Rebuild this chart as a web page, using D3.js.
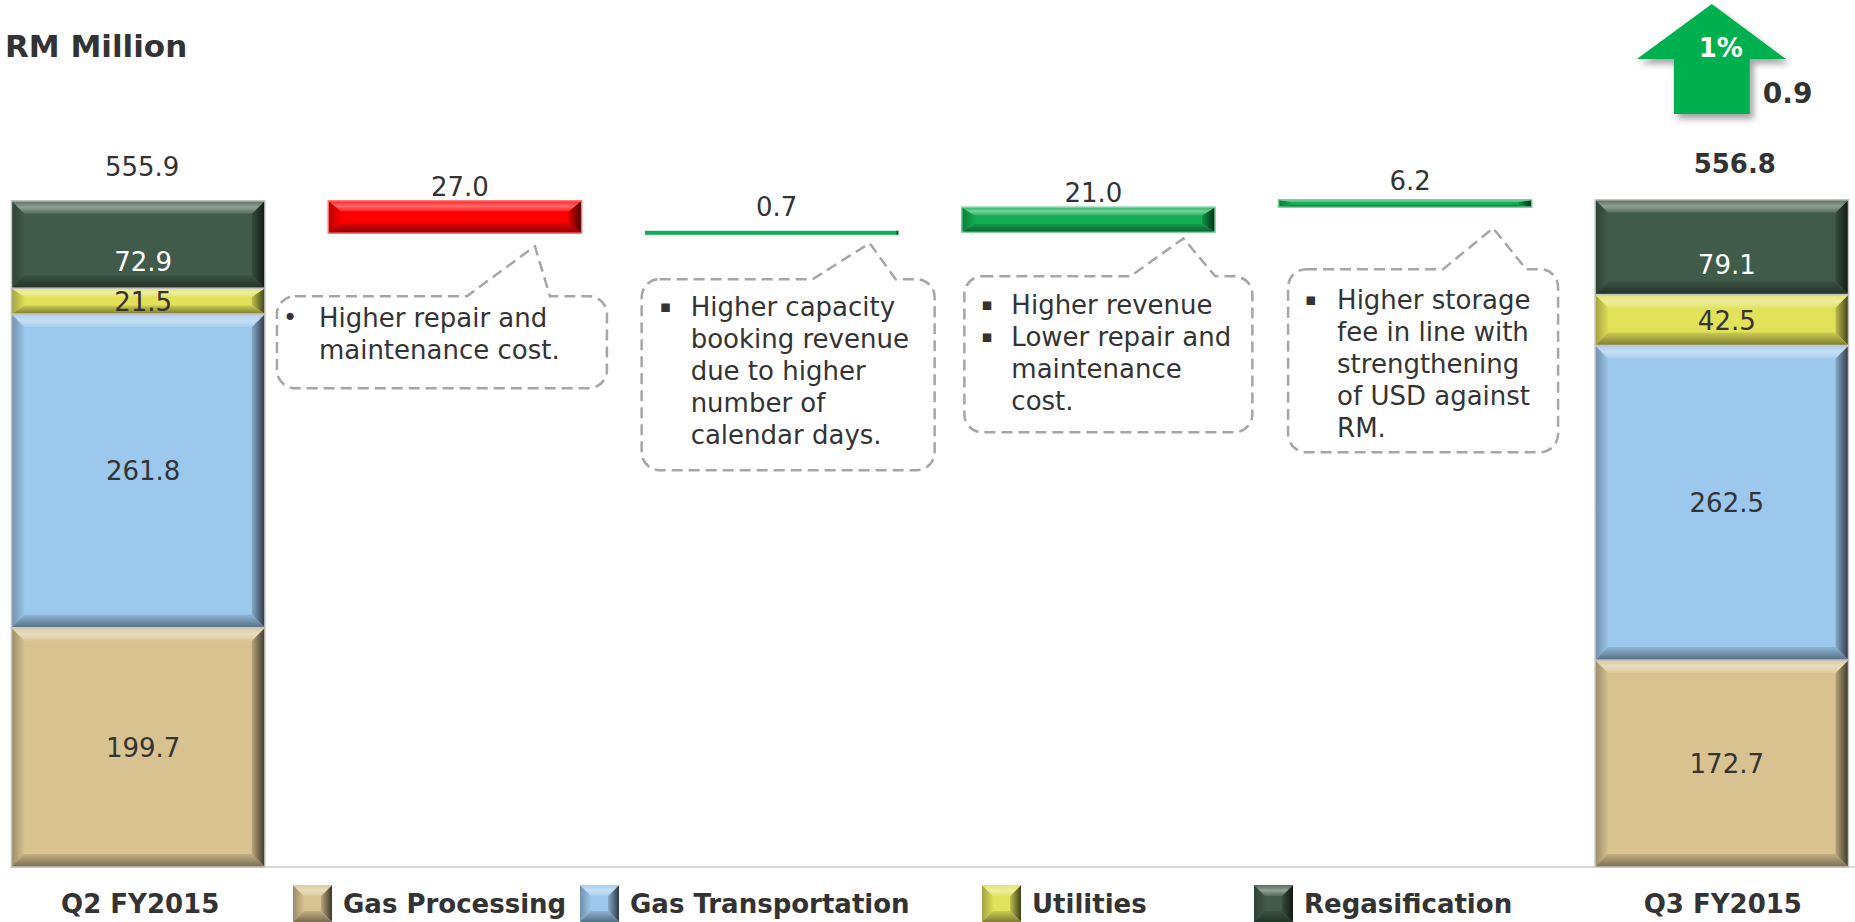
<!DOCTYPE html>
<html>
<head>
<meta charset="utf-8">
<script src="https://cdn.jsdelivr.net/npm/d3@7"></script>
<style>
  html, body { margin: 0; padding: 0; background: #ffffff; }
  svg { display: block; font-family: "DejaVu Sans", Verdana, sans-serif; }
</style>
</head>
<body>
<svg id="chart" width="1855" height="922"></svg>
<script>
// ---------- data ----------
const periods = ["Q2 FY2015", "Q3 FY2015"];
const segments = ["Gas Processing", "Gas Transportation", "Utilities", "Regasification"];
const q2Values = [199.7, 261.8, 21.5, 72.9];
const q3Values = [172.7, 262.5, 42.5, 79.1];
const segmentChanges = [-27.0, 0.7, 21.0, 6.2];
const changePercentLabel = "1%";
const unitLabel = "RM Million";

// explanation notes for each segment change: bullet items, each split into lines
const notes = [
  [["Higher repair and", "maintenance cost."]],
  [["Higher capacity", "booking revenue", "due to higher", "number of", "calendar days."]],
  [["Higher revenue"], ["Lower repair and", "maintenance", "cost."]],
  [["Higher storage", "fee in line with", "strengthening", "of USD against", "RM."]]
];
const noteBullets = ["•", "▪", "▪", "▪"];

// ---------- styles ----------
const segmentColors = ["#d8c390", "#9dc8ee", "#e1e15a", "#405b49"];
const segmentLabelColors = ["#333333", "#333333", "#333333", "#ffffff"];
const upColor = "#12ad52";
const downColor = "#ff0000";
const textColor = "#333333";

const W = 1855, H = 922;
const svg = d3.select("#chart");
const defs = svg.append("defs");
const fmt = d3.format(".1f");

// ---------- scales ----------
const categories = [periods[0], ...segments, periods[1]];
const x = d3.scaleBand().domain(categories).range([2, 1858]).paddingInner(0.2).paddingOuter(0.03);
const y = d3.scaleLinear().domain([0, 600]).range([867, 148]);
const bw = x.bandwidth();
const cx = c => x(c) + bw / 2;

// ---------- bevel helpers ----------
const gradCache = {};
function grad(color, side) {
  const id = "g" + color.replace("#", "") + side;
  if (!gradCache[id]) {
    gradCache[id] = true;
    const mix = t => t >= 0 ? d3.interpolateRgb(color, "#ffffff")(t) : d3.interpolateRgb(color, "#000000")(-t);
    const specs = {
      top:    { x2: 0, y2: 1, stops: [[0, mix(0.12)], [0.5, mix(0.42)], [1, mix(0.1)]] },
      bottom: { x2: 0, y2: 1, stops: [[0, mix(-0.1)], [1, mix(-0.45)]] },
      left:   { x2: 1, y2: 0, stops: [[0, mix(-0.28)], [1, mix(-0.02)]] },
      right:  { x2: 1, y2: 0, stops: [[0, mix(-0.15)], [1, mix(-0.72)]] }
    };
    const s = specs[side];
    const lg = defs.append("linearGradient").attr("id", id)
      .attr("x1", 0).attr("y1", 0).attr("x2", s.x2).attr("y2", s.y2);
    s.stops.forEach(([o, c]) => lg.append("stop").attr("offset", o).attr("stop-color", c));
  }
  return `url(#${id})`;
}

function bevelRect(g, x0, y0, w, h, color, stroke, maxB = 13) {
  const by = Math.min(maxB, h * 0.33);
  const bx = Math.min(maxB, w / 2);
  const grp = g.append("g");
  grp.append("rect").attr("x", x0).attr("y", y0).attr("width", w).attr("height", h).attr("fill", color);
  const pts = {
    top:    [[x0, y0], [x0 + w, y0], [x0 + w - bx, y0 + by], [x0 + bx, y0 + by]],
    bottom: [[x0 + bx, y0 + h - by], [x0 + w - bx, y0 + h - by], [x0 + w, y0 + h], [x0, y0 + h]],
    left:   [[x0, y0], [x0 + bx, y0 + by], [x0 + bx, y0 + h - by], [x0, y0 + h]],
    right:  [[x0 + w - bx, y0 + by], [x0 + w, y0], [x0 + w, y0 + h], [x0 + w - bx, y0 + h - by]]
  };
  ["left", "right", "top", "bottom"].forEach(side => {
    grp.append("polygon").attr("points", pts[side].map(p => p.join(",")).join(" "))
      .attr("fill", grad(color, side));
  });
  if (stroke) {
    grp.append("rect").attr("x", x0).attr("y", y0).attr("width", w).attr("height", h)
      .attr("fill", "none").attr("stroke", stroke).attr("stroke-width", 1.5);
  }
  return grp;
}

// ---------- baseline ----------
svg.append("line").attr("x1", 10).attr("x2", W).attr("y1", y(0)).attr("y2", y(0))
  .attr("stroke", "#d9d9d9").attr("stroke-width", 2);

// ---------- stacked period bars ----------
const stackRows = periods.map((p, i) => {
  const row = { period: p };
  const vals = i === 0 ? q2Values : q3Values;
  segments.forEach((s, j) => { row[s] = vals[j]; });
  return row;
});
const stacked = d3.stack().keys(segments)(stackRows);
const barsG = svg.append("g");
const labelsG = svg.append("g");

stacked.forEach((ser, j) => {
  ser.forEach(d => {
    const x0 = x(d.data.period);
    const yTop = y(d[1]), yBot = y(d[0]);
    bevelRect(barsG, x0, yTop, bw, yBot - yTop, segmentColors[j], "#c4c4c4");
    // the top segment's value sits lower inside its block
    const shift = j === segments.length - 1 ? 17 : 0;
    labelsG.append("text")
      .attr("x", cx(d.data.period) + 5)
      .attr("y", (yTop + yBot) / 2 + 9.5 + shift)
      .attr("text-anchor", "middle")
      .attr("font-size", 26)
      .attr("fill", segmentLabelColors[j])
      .text(fmt(d.data[segments[j]]));
  });
});

// period totals above stacks
const totals = [d3.sum(q2Values), d3.sum(q3Values)];
periods.forEach((p, i) => {
  labelsG.append("text")
    .attr("x", cx(p) + (i === 0 ? 4 : 13))
    .attr("y", y(totals[i]) - (i === 0 ? 25 : 27))
    .attr("text-anchor", "middle")
    .attr("font-size", 26)
    .attr("font-weight", i === 0 ? "normal" : "bold")
    .attr("fill", textColor)
    .text(fmt(totals[i]));
});

// ---------- waterfall change bars ----------
let running = totals[0];
const steps = segmentChanges.map((v, i) => {
  const start = running;
  running += v;
  return { cat: segments[i], value: v, start, end: running };
});

steps.forEach(s => {
  const lo = Math.min(s.start, s.end), hi = Math.max(s.start, s.end);
  const yTop = y(hi), yBot = y(lo);
  const color = s.value < 0 ? downColor : upColor;
  const h = yBot - yTop;
  if (h < 3) {
    barsG.append("rect").attr("x", x(s.cat)).attr("y", (yTop + yBot) / 2 - 2)
      .attr("width", bw).attr("height", 4).attr("fill", color);
    barsG.append("rect").attr("x", x(s.cat) + bw - 2).attr("y", (yTop + yBot) / 2 - 2)
      .attr("width", 2).attr("height", 4).attr("fill", "#0b5a2b");
  } else {
    bevelRect(barsG, x(s.cat), yTop, bw, h, color,
      d3.interpolateRgb(color, "#ffffff")(0.45));
  }
  labelsG.append("text")
    .attr("x", cx(s.cat) + 5)
    .attr("y", Math.min(yTop - 5, yBot - 17))
    .attr("text-anchor", "middle")
    .attr("font-size", 26)
    .attr("fill", textColor)
    .text(fmt(Math.abs(s.value)));
  s.yBot = yBot;
});

// ---------- explanation callouts ----------
// geometry relative to the bar centre and the bar's lower edge
const calloutLayout = [
  { l: -178, r: 152, t: 63, b: 155, pL: 12, pR: 95, tipX: 80, tipY: 13, first: 31, bx: -172, tx: -136 },
  { l: -130, r: 163, t: 46, b: 237, pL: 41, pR: 124, tipX: 98, tipY: 10, first: 37, bx: -112, tx: -81 },
  { l: -124, r: 164, t: 44, b: 200, pL: 42, pR: 127, tipX: 95, tipY: 6, first: 38, bx: -107, tx: -77 },
  { l: -117, r: 153, t: 62, b: 245, pL: 38, pR: 121, tipX: 88, tipY: 21, first: 40, bx: -100, tx: -68 }
];
const calloutG = svg.append("g");
steps.forEach((s, i) => {
  const L = calloutLayout[i];
  const c = cx(s.cat), yb = s.yBot;
  const left = c + L.l, right = c + L.r, top = yb + L.t, bottom = yb + L.b, rad = 18;
  const p = d3.path();
  p.moveTo(left + rad, top);
  p.lineTo(c + L.pL, top);
  p.lineTo(c + L.tipX, yb + L.tipY);
  p.lineTo(c + L.pR, top);
  p.lineTo(right - rad, top);
  p.arcTo(right, top, right, top + rad, rad);
  p.lineTo(right, bottom - rad);
  p.arcTo(right, bottom, right - rad, bottom, rad);
  p.lineTo(left + rad, bottom);
  p.arcTo(left, bottom, left, bottom - rad, rad);
  p.lineTo(left, top + rad);
  p.arcTo(left, top, left + rad, top, rad);
  p.closePath();
  calloutG.append("path").attr("d", p.toString())
    .attr("fill", "#ffffff").attr("stroke", "#a6a6a6")
    .attr("stroke-width", 2.5).attr("stroke-dasharray", "11 6");

  let line = 0;
  notes[i].forEach(item => {
    const by = top + L.first + line * 32;
    const round = noteBullets[i] === "•";
    calloutG.append("text")
      .attr("x", c + L.bx).attr("y", round ? by - 1 : by - 4)
      .attr("font-size", round ? 24 : 17)
      .attr("fill", textColor)
      .text(noteBullets[i]);
    item.forEach(t => {
      calloutG.append("text")
        .attr("x", c + L.tx).attr("y", top + L.first + line * 32)
        .attr("font-size", 26).attr("fill", textColor)
        .text(t);
      line++;
    });
  });
});

// ---------- category labels ----------
periods.forEach((p, i) => {
  svg.append("text")
    .attr("x", cx(p) + (i === 0 ? 2 : 1))
    .attr("y", 913)
    .attr("text-anchor", "middle")
    .attr("font-size", 26).attr("font-weight", "bold")
    .attr("fill", textColor)
    .text(p);
});

// ---------- legend ----------
const legendX = [293, 580, 982, 1254];
const legendG = svg.append("g");
segments.forEach((s, i) => {
  bevelRect(legendG, legendX[i], 885, 39, 37, segmentColors[i], null, 11);
  legendG.append("text")
    .attr("x", legendX[i] + 50).attr("y", 913)
    .attr("font-size", 26).attr("font-weight", "bold")
    .attr("fill", textColor)
    .text(s);
});

// ---------- unit title ----------
svg.append("text").attr("x", 5).attr("y", 57)
  .attr("font-size", 31).attr("font-weight", "bold").attr("fill", textColor)
  .text(unitLabel);

// ---------- net change arrow ----------
const shadow = defs.append("filter").attr("id", "arrowShadow")
  .attr("x", "-20%").attr("y", "-20%").attr("width", "150%").attr("height", "150%");
shadow.append("feDropShadow").attr("dx", 4).attr("dy", 5).attr("stdDeviation", 3)
  .attr("flood-color", "#000").attr("flood-opacity", 0.35);

const netChange = totals[1] - totals[0];
const ax = cx(periods[1]) - 10, aTop = 4;
const arrowPts = [
  [ax, aTop], [ax + 74, aTop + 55], [ax + 38, aTop + 55], [ax + 38, aTop + 110],
  [ax - 38, aTop + 110], [ax - 38, aTop + 55], [ax - 75, aTop + 55]
];
const arrowG = svg.append("g");
arrowG.append("polygon").attr("points", arrowPts.map(p => p.join(",")).join(" "))
  .attr("fill", "#00b050").attr("filter", "url(#arrowShadow)");
arrowG.append("text").attr("x", ax + 9).attr("y", aTop + 53)
  .attr("text-anchor", "middle").attr("font-size", 26).attr("font-weight", "bold")
  .attr("fill", "#ffffff").text(changePercentLabel);
arrowG.append("text").attr("x", ax + 51).attr("y", aTop + 99)
  .attr("font-size", 28).attr("font-weight", "bold")
  .attr("fill", textColor).text(fmt(netChange));
</script>
</body>
</html>
